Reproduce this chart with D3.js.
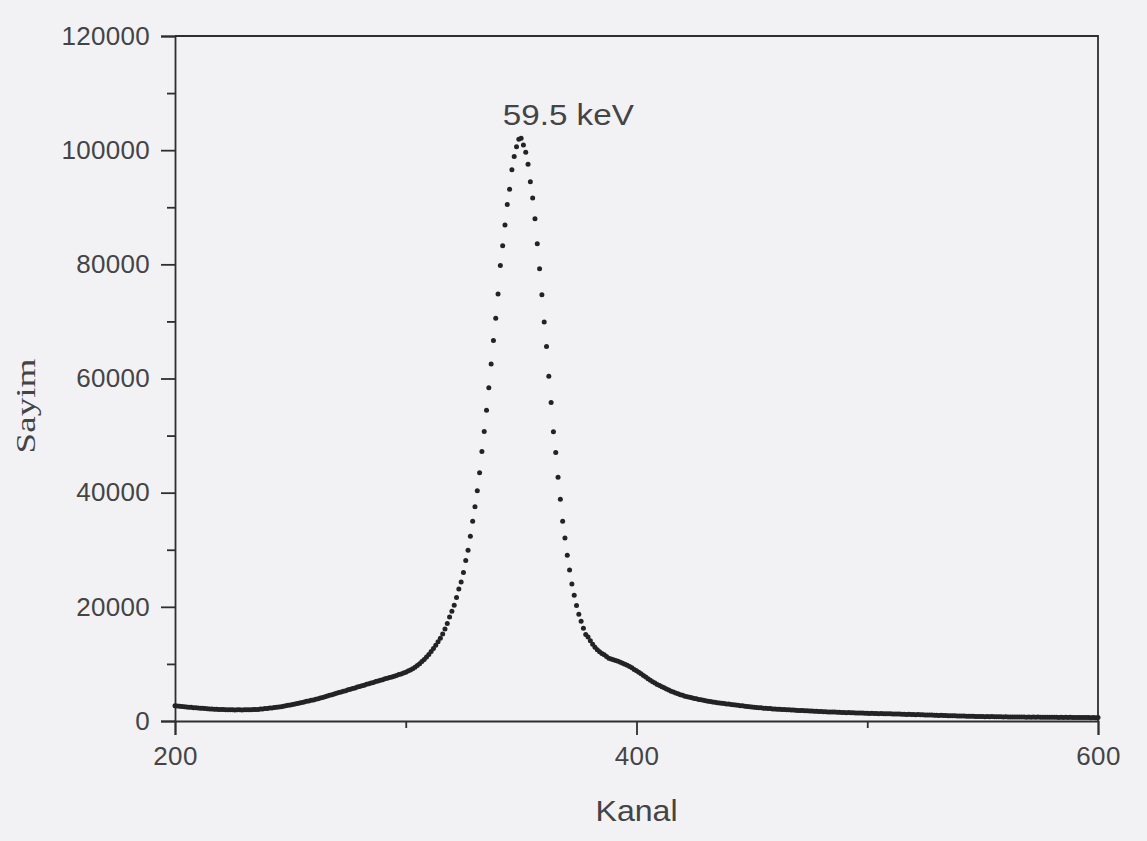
<!DOCTYPE html>
<html>
<head>
<meta charset="utf-8">
<script src="https://cdn.jsdelivr.net/npm/d3@7/dist/d3.min.js"></script>
<style>
  html, body { margin: 0; padding: 0; background: #f2f2f5; }
  svg { display: block; }
</style>
</head>
<body>
<svg id="chart" width="1147" height="841"></svg>
<script>
// ---- Data ----
const xTickLabels = [200, 400, 600];
const xMinorTicks = [300, 500];
const yTickLabels = [0, 20000, 40000, 60000, 80000, 100000, 120000];
const yMinorTicks = [10000, 30000, 50000, 70000, 90000, 110000];
const peakLabel = "59.5 keV";
const xTitle = "Kanal";
const yTitle = "Sayim";

// channels 200..319
const leftTailStart = 200;
const leftTail = [
  2660, 2620, 2590, 2540, 2500, 2470, 2410, 2390, 2340, 2320,
  2290, 2240, 2220, 2170, 2160, 2110, 2100, 2070, 2060, 2030,
  2030, 2000, 1990, 1990, 1960, 1970, 1940, 1950, 1950, 1940,
  1960, 1950, 1980, 1970, 2000, 2010, 2030, 2090, 2110, 2170,
  2190, 2260, 2290, 2360, 2390, 2460, 2510, 2600, 2650, 2740,
  2790, 2900, 2970, 3080, 3150, 3260, 3330, 3440, 3510, 3620,
  3690, 3820, 3910, 4040, 4130, 4260, 4360, 4500, 4600, 4740,
  4840, 4980, 5080, 5220, 5320, 5460, 5560, 5700, 5800, 5940,
  6040, 6180, 6280, 6420, 6520, 6660, 6760, 6900, 7000, 7140,
  7240, 7380, 7480, 7620, 7720, 7860, 7970, 8130, 8250, 8410,
  8540, 8750, 8930, 9160, 9410, 9730, 10040, 10410, 10770, 11210,
  11670, 12190, 12690, 13290, 13870, 14510, 15240, 16110, 17090, 18240
];
// channels 320..378
const peakStart = 320;
const peak = [
  19240, 20290, 21640, 23140, 24360, 26010, 28110, 29910, 32360, 34980,
  37550, 40350, 43500, 47220, 50720, 54450, 58360, 62560, 66640, 70540,
  74800, 79800, 83250, 86900, 90480, 93170, 96550, 98870, 100620, 101910,
  102090, 100920, 99640, 97540, 94450, 91600, 87970, 83600, 79230, 74680,
  69910, 65590, 60390, 55790, 50670, 47050, 42680, 38830, 34980, 32060,
  29030, 26460, 24010, 22040, 20240, 18710, 17490, 16270, 15160
];
// channels 379..600
const rightTailStart = 379;
const rightTail = [
  14700, 14060, 13440, 12910, 12470, 12110, 11810, 11610, 11290, 11010, 10840,
  10710, 10590, 10460, 10290, 10110, 9940, 9760, 9540, 9310, 9040,
  8810, 8520, 8260, 7970, 7710, 7410, 7160, 6890, 6660, 6410,
  6210, 5990, 5810, 5590, 5430, 5220, 5060, 4890, 4760, 4590,
  4490, 4350, 4260, 4140, 4060, 3940, 3880, 3780, 3720, 3620,
  3560, 3470, 3420, 3330, 3280, 3190, 3160, 3090, 3060, 2990,
  2960, 2890, 2860, 2790, 2760, 2690, 2660, 2590, 2560, 2490,
  2460, 2400, 2380, 2320, 2300, 2240, 2230, 2180, 2170, 2120,
  2110, 2070, 2060, 2020, 2010, 1970, 1960, 1920, 1910, 1870,
  1860, 1820, 1820, 1780, 1780, 1740, 1740, 1700, 1700, 1660,
  1660, 1620, 1630, 1590, 1590, 1560, 1560, 1520, 1520, 1490,
  1490, 1460, 1470, 1430, 1440, 1410, 1410, 1380, 1390, 1350,
  1360, 1330, 1340, 1310, 1320, 1290, 1300, 1270, 1280, 1250,
  1260, 1230, 1240, 1210, 1220, 1180, 1190, 1160, 1170, 1130,
  1140, 1110, 1120, 1080, 1090, 1060, 1070, 1030, 1040, 1000,
  1010, 980, 990, 960, 960, 930, 940, 910, 910, 880,
  890, 860, 870, 840, 850, 820, 830, 800, 810, 780,
  790, 760, 780, 750, 770, 740, 750, 730, 740, 720,
  730, 710, 720, 700, 710, 690, 700, 680, 700, 670,
  690, 670, 680, 660, 680, 650, 670, 650, 660, 640,
  660, 640, 650, 630, 650, 620, 640, 620, 640, 610,
  630, 610, 630, 600, 620, 600, 620, 590, 610, 590,
  600
];

// ---- Build points ----
const points = [];
[[leftTailStart, leftTail], [peakStart, peak], [rightTailStart, rightTail]].forEach(([start, arr]) => {
  arr.forEach((v, i) => points.push({ ch: start + i, v: v }));
});

// ---- Layout ----
const svg = d3.select("#chart");
const plotL = 175, plotR = 1098, plotT = 36, plotB = 721;
const x = d3.scaleLinear().domain([200, 600]).range([plotL, plotR]);
const y = d3.scaleLinear().domain([0, 120000]).range([plotB, plotT]);

const ink = "#2e2e30";
const textInk = "#444446";
const font = "'Liberation Sans', Arial, sans-serif";

// frame (top and right)
svg.append("path")
  .attr("d", `M${plotL},${plotT}H${plotR}V${plotB}`)
  .attr("fill", "none").attr("stroke", ink).attr("stroke-width", 1.8);

// y axis
svg.append("g").attr("transform", `translate(${plotL},0)`)
  .call(d3.axisLeft(y).tickValues(yTickLabels).tickSize(14).tickPadding(11).tickFormat(d3.format("d")));
svg.append("g").attr("transform", `translate(${plotL},0)`)
  .call(d3.axisLeft(y).tickValues(yMinorTicks).tickSize(8).tickFormat(""))
  .call(g => g.select(".domain").remove());

// x axis
svg.append("g").attr("transform", `translate(0,${plotB})`)
  .call(d3.axisBottom(x).tickValues(xTickLabels).tickSize(14).tickPadding(12).tickFormat(d3.format("d")));
svg.append("g").attr("transform", `translate(0,${plotB})`)
  .call(d3.axisBottom(x).tickValues(xMinorTicks).tickSize(7).tickFormat(""))
  .call(g => g.select(".domain").remove());

svg.selectAll(".domain").attr("stroke", ink).attr("stroke-width", 1.8);
svg.selectAll(".tick line").attr("stroke", ink).attr("stroke-width", 1.8);
svg.selectAll(".tick text")
  .attr("fill", textInk)
  .style("font-family", font)
  .style("font-size", "26px")
  .style("letter-spacing", "0.3px");

// data points
svg.append("g").selectAll("circle").data(points).join("circle")
  .attr("cx", d => x(d.ch))
  .attr("cy", d => y(d.v))
  .attr("r", 2.5)
  .attr("fill", "#232325");

// peak label
svg.append("text")
  .attr("x", x(349) - 16).attr("y", 125)
  .attr("fill", textInk)
  .style("font-family", font).style("font-size", "30px")
  .attr("textLength", 131).attr("lengthAdjust", "spacingAndGlyphs")
  .text(peakLabel);

// axis titles
svg.append("text")
  .attr("x", x(400)).attr("y", 821)
  .attr("text-anchor", "middle")
  .attr("fill", textInk)
  .style("font-family", font).style("font-size", "29px")
  .attr("textLength", 82).attr("lengthAdjust", "spacingAndGlyphs")
  .text(xTitle);

svg.append("text")
  .attr("transform", "translate(35,406) rotate(-90)")
  .attr("text-anchor", "middle")
  .attr("fill", textInk)
  .style("font-family", "'Liberation Serif', 'Times New Roman', serif").style("font-size", "28px")
  .attr("textLength", 95).attr("lengthAdjust", "spacingAndGlyphs")
  .text(yTitle);
</script>
</body>
</html>
